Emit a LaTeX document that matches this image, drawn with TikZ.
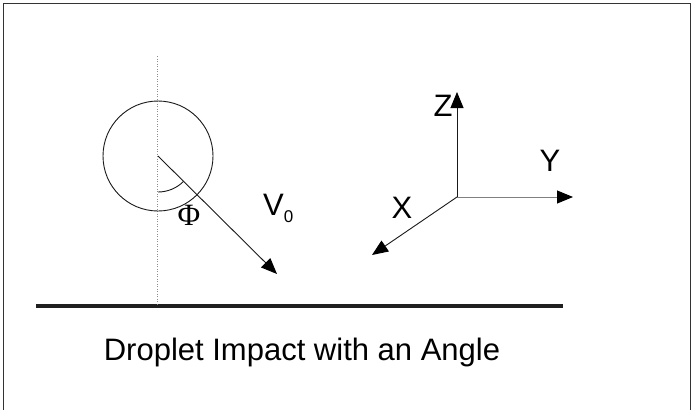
\documentclass[tikz,border=0pt]{standalone}
\usepackage{fontspec}
\setmainfont{Liberation Sans}
\newfontfamily\serifgreek{Liberation Serif}
\usetikzlibrary{arrows.meta}
\begin{document}
\begin{tikzpicture}[x=1pt,y=-1pt,
  thinline/.style={line width=0.9pt,draw=black!90},
  vec/.style={thinline,-{Triangle[length=16pt,width=13pt,color=black]}},
  lbl/.style={font=\fontsize{31}{31}\selectfont,inner sep=0pt,anchor=base},
]
\useasboundingbox (0,0) rectangle (691,410);
% frame (open at the bottom)
\draw[line width=1pt,draw=black!80] (3,410) -- (3,3) -- (690,3) -- (690,410);
% ground
\coordinate (g1) at (36,306);
\coordinate (g2) at (563,306);
\draw[line width=3.5pt,draw=black!88] (g1) -- (g2);
% dotted vertical
\coordinate (d1) at (157,56);
\coordinate (d2) at (157,305);
\draw[line width=1pt,draw=black!45,dash pattern=on 1pt off 1.5pt] (d1) -- (d2);
% droplet
\coordinate (c) at (158,156);
\draw[thinline] (c) circle (55);
% velocity arrow
\coordinate (vt) at (277,274);
\draw[vec] (c) -- (vt);
% angle arc
\draw[thinline] (c) ++(90:36) arc[start angle=90,end angle=45,radius=36];
\node[inner sep=0pt,anchor=base,font=\serifgreek\fontsize{31}{31}\selectfont] (phi) at (189,225) {Φ};
\node[lbl,anchor=base west] (v0) at (263,215) {V\raisebox{-7pt}{\fontsize{17}{17}\selectfont 0}};
% axes
\coordinate (o) at (457,197);
\coordinate (zt) at (457,92);
\coordinate (yt) at (573,197);
\coordinate (xt) at (372,255);
\draw[vec] (o) -- (zt);
\draw[vec,draw=black!50] (o) -- (yt);
\draw[vec] (o) -- (xt);
\node[lbl] (zl) at (443,116) {Z};
\node[lbl] (yl) at (550,171) {Y};
\node[lbl] (xl) at (402,218) {X};
% title
\node[lbl] (title) at (302,360) {Droplet Impact with an Angle};
\end{tikzpicture}
\end{document}
